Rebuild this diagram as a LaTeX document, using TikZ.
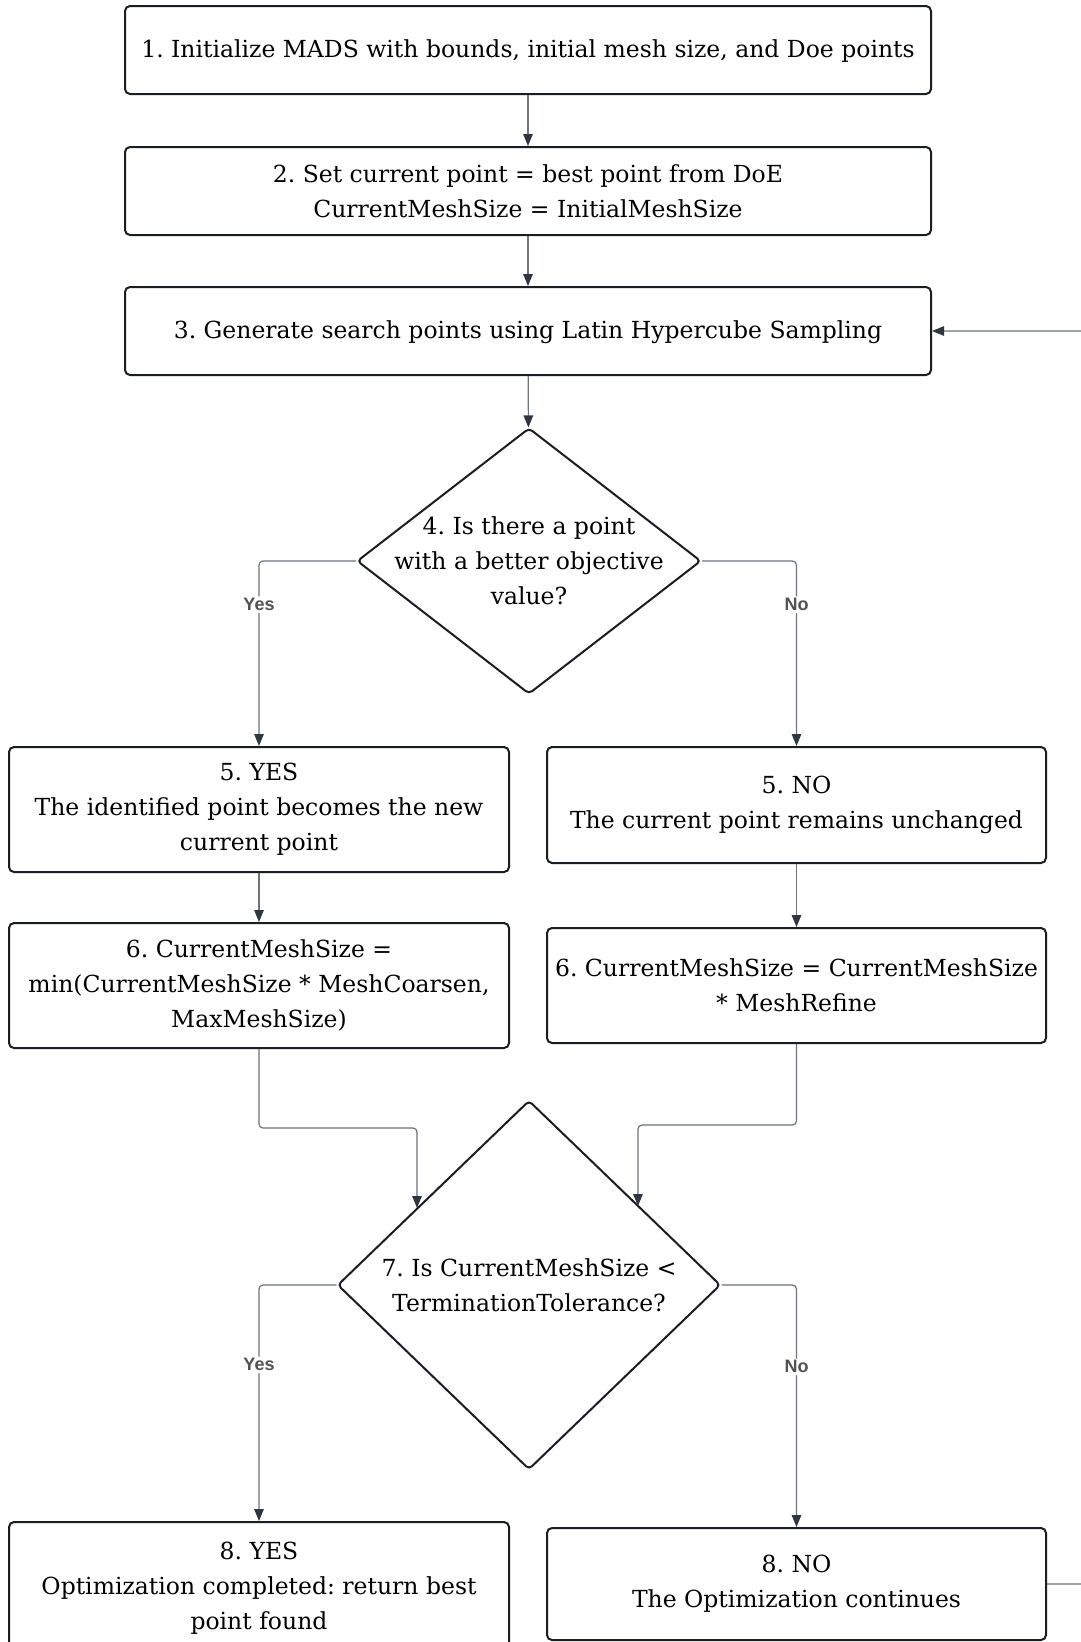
\documentclass[tikz,border=0pt]{standalone}
\usepackage{fontspec}
\setmainfont{DejaVu Serif}
\newfontfamily\labelfont{Liberation Sans}
\usetikzlibrary{arrows.meta,shapes.geometric}
\definecolor{linec}{HTML}{6E737A}
\definecolor{tipc}{HTML}{2E3642}
\definecolor{boxc}{HTML}{1A1E23}
\begin{document}
\frenchspacing
\begin{tikzpicture}[x=1pt,y=-1pt,
  box/.style={draw=boxc, line width=2pt, rounded corners=5pt, fill=white, align=center,
    font=\fontsize{23.5}{35}\selectfont, inner sep=0pt, text=black},
  dia/.style={diamond, draw=boxc, line width=2pt, rounded corners=4pt, inner sep=0pt, fill=white},
  diatext/.style={align=center, font=\fontsize{23.5}{35}\selectfont, text=black, inner sep=0pt},
  conn/.style={draw=linec, line width=1.2pt, rounded corners=4pt, -{Triangle[length=12pt,width=9.5pt,color=tipc]}},
  lab/.style={fill=white, text=black!68, font=\labelfont\bfseries\fontsize{18}{20}\selectfont, inner sep=2pt}
]
\useasboundingbox (0,0) rectangle (1081,1642);
\fill[white] (0,0) rectangle (1081,1642);
\clip (0,0) rectangle (1081,1642);

% boxes
\node[box, minimum width=806pt, minimum height=88pt] (b1) at (528,50)
  {\strut 1. Initialize MADS with bounds, initial mesh size, and Doe points};
\node[box, minimum width=806pt, minimum height=88pt] (b2) at (528,191)
  {2. Set current point = best point from DoE\\CurrentMeshSize = InitialMeshSize};
\node[box, minimum width=806pt, minimum height=88pt] (b3) at (528,331)
  {\strut 3. Generate search points using Latin Hypercube Sampling};

\node[dia, minimum width=344pt, minimum height=266pt] (d4) at (529,561) {};
\node[diatext] (d4t) at (d4.center) {4. Is there a point\\with a better objective\\value?};

\node[box, minimum width=500pt, minimum height=125pt] (b5l) at (259,809.5)
  {5. YES\\The identified point becomes the new\\current point};
\node[box, minimum width=499pt, minimum height=116pt] (b5r) at (796.5,805)
  {5. NO\\The current point remains unchanged};
\node[box, minimum width=500pt, minimum height=125pt] (b6l) at (259,985.5)
  {6. CurrentMeshSize =\\min(CurrentMeshSize * MeshCoarsen,\\MaxMeshSize)};
\node[box, minimum width=499pt, minimum height=115pt] (b6r) at (796.5,985.5)
  {6. CurrentMeshSize = CurrentMeshSize\\* MeshRefine};

\node[dia, minimum width=383pt, minimum height=369pt] (d7) at (529,1285) {};
\node[diatext] (d7t) at (d7.center) {7. Is CurrentMeshSize <\\TerminationTolerance?};

\node[box, minimum width=500pt, minimum height=132pt] (b8l) at (259,1588)
  {8. YES\\Optimization completed: return best\\point found};
\node[box, minimum width=499pt, minimum height=112pt] (b8r) at (796.5,1584)
  {8. NO\\The Optimization continues};

% helper coordinates
\coordinate (j6l) at (417,1128);
\coordinate (in7l) at (417,1208);
\coordinate (j6r) at (638,1125);
\coordinate (in7r) at (638,1206);
\coordinate (loopx) at (1100,0);

% connectors
\draw[conn] (b1) -- (b2);
\draw[conn] (b2) -- (b3);
\draw[conn] (b3) -- (d4);
\draw[conn] (d4.west) -| node[lab, pos=0.618] {Yes} (b5l.north);
\draw[conn] (d4.east) -| node[lab, pos=0.618] {No} (b5r.north);
\draw[conn] (b5l) -- (b6l);
\draw[conn] (b5r) -- (b6r);
\draw[conn] (b6l.south) |- (j6l) -- (in7l);
\draw[conn] (b6r.south) |- (j6r) -- (in7r);
\draw[conn] (d7.west) -| node[lab, pos=0.669] {Yes} (b8l.north);
\draw[conn] (d7.east) -| node[lab, pos=0.669] {No} (b8r.north);
\draw[conn] (b8r.east) -- (b8r.east -| loopx) |- (b3.east);
\end{tikzpicture}
\end{document}
